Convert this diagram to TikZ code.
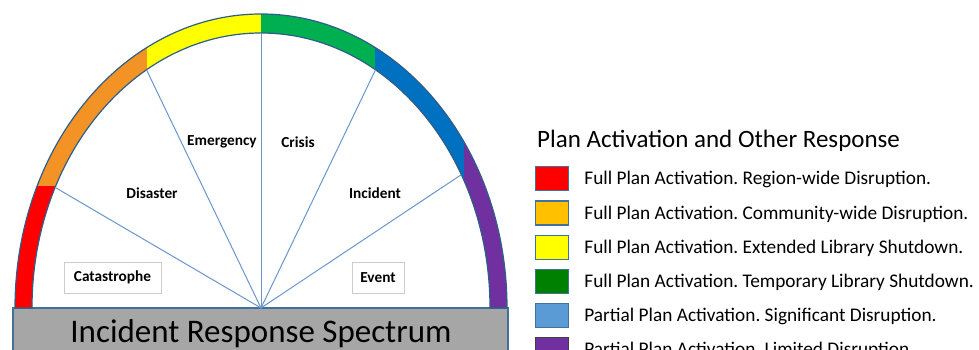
\documentclass[tikz,border=0pt]{standalone}
\usepackage{fontspec}
\setmainfont{Carlito}
\usetikzlibrary{matrix,calc}
\frenchspacing
\definecolor{arcRed}{HTML}{FF0000}
\definecolor{arcOrange}{HTML}{F39325}
\definecolor{arcYellow}{HTML}{FFFF00}
\definecolor{arcGreen}{HTML}{00B050}
\definecolor{arcBlue}{HTML}{0070C0}
\definecolor{arcPurple}{HTML}{7030A0}
\definecolor{keyOrange}{HTML}{FFC000}
\definecolor{keyGreen}{HTML}{008000}
\definecolor{keyBlue}{HTML}{5B9BD5}
\definecolor{keyEdge}{HTML}{41719C}
\definecolor{bandEdge}{HTML}{2E5F8A}
\definecolor{spokeBlue}{HTML}{6A95CC}
\definecolor{barGray}{HTML}{A6A6A6}
\definecolor{boxGray}{HTML}{CCCCCC}
\newcommand\bandpath{($(hub)+(-246,0)$) arc[start angle=180,end angle=0,x radius=246,y radius=294]
  -- ++(-17,0) arc[start angle=0,end angle=180,x radius=229,y radius=275] -- cycle}
\tikzset{
  spoke/.style={draw=spokeBlue, line width=1pt},
  sector/.style={font=\fontsize{15.3}{18}\selectfont\bfseries, inner sep=0pt},
  framed/.style={sector, draw=boxGray, line width=0.9pt, minimum height=31pt},
  swatch/.style={draw=keyEdge, line width=1.2pt, minimum width=33pt, minimum height=24pt, inner sep=0pt},
  keytext/.style={font=\fontsize{19.3}{22}\selectfont, text height=12.4pt, text depth=0pt, inner sep=0pt}
}
\begin{document}
\begin{tikzpicture}[x=1pt,y=1pt]
\useasboundingbox (0,0) rectangle (979,350);
\coordinate (hub) at (261,42);
\draw[fill=barGray, draw=keyEdge, line width=1.2pt] (13,-10) rectangle (508,42);
\node[anchor=base, font=\fontsize{33}{36}\selectfont, inner sep=0pt] (spectrum) at (261,7) {Incident Response Spectrum};
\begin{scope}
  \clip \bandpath;
  \fill[arcRed] (0,0) rectangle (147,164);
  \fill[arcOrange] (0,164) rectangle (147,350);
  \fill[arcYellow] (147,0) rectangle (261,350);
  \fill[arcGreen] (261,0) rectangle (375,350);
  \fill[arcBlue] (375,0) rectangle (464,350);
  \fill[arcPurple] (464,0) rectangle (979,350);
\end{scope}
\draw[bandEdge, line width=1.2pt] \bandpath;
\foreach \a [count=\i] in {154,120,90,60,29} {
  \coordinate (tip\i) at ($(hub)+(\a:229 and 275)$);
  \draw[spoke] (hub) -- (tip\i);
}
\node[sector] (emergency) at (222,208) {Emergency};
\node[sector] (crisis) at (298,208) {Crisis};
\node[sector] (disaster) at (152,157) {Disaster};
\node[sector] (incident) at (375,157) {Incident};
\node[framed, minimum width=97pt] (catastrophe) at (112.5,72.5) {Catastrophe};
\node[framed, minimum width=52pt] (event) at (378,72.5) {Event};
\node[anchor=base west, font=\fontsize{25}{28}\selectfont, inner sep=0pt] (keyTitle) at (537,202) {Plan Activation and Other Response};
\matrix (legend) [matrix of nodes, anchor=north west, inner sep=0pt, nodes in empty cells,
                  column sep=15pt, row sep=9pt, column 2/.style={nodes={keytext, anchor=west}}]
  at (535,184) {
  |[swatch, fill=arcRed]|    & Full Plan Activation. Region-wide Disruption. \\
  |[swatch, fill=keyOrange]| & Full Plan Activation. Community-wide Disruption. \\
  |[swatch, fill=arcYellow]| & Full Plan Activation. Extended Library Shutdown. \\
  |[swatch, fill=keyGreen]|  & Full Plan Activation. Temporary Library Shutdown. \\
  |[swatch, fill=keyBlue]|   & Partial Plan Activation. Significant Disruption. \\
  |[swatch, fill=arcPurple, draw=black!75]| & Partial Plan Activation. Limited Disruption. \\
};
\end{tikzpicture}
\end{document}
